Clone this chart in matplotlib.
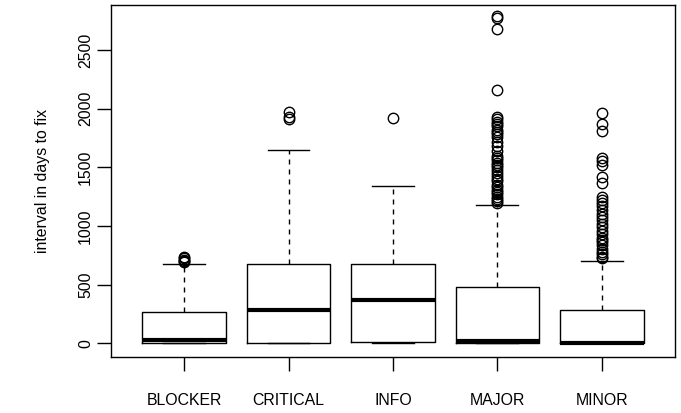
import matplotlib
matplotlib.use("Agg")
import matplotlib.pyplot as plt

plt.rcParams['font.family'] = ['Liberation Sans', 'DejaVu Sans']

# Summary statistics per severity level (days)
categories = ["BLOCKER", "CRITICAL", "INFO", "MAJOR", "MINOR"]
q1 = [0, 0, 14, 5, 0]
medians = [26, 285, 368, 20, 4]
q3 = [270, 676, 676, 477, 284]
whisk_lo = [0, 0, 0, 0, 0]
whisk_hi = [680, 1647, 1342, 1181, 705]

fliers_blocker = [740, 725, 712, 700, 690]
fliers_critical = [1975, 1925, 1912]
fliers_info = [1917]
fliers_major = [2790, 2775, 2680, 2160, 1930, 1910, 1890, 1870, 1850, 1820,
                1800, 1780, 1760, 1720, 1680, 1640, 1600, 1580, 1560, 1540,
                1520, 1500, 1480, 1450, 1430, 1400, 1380, 1350, 1330, 1310,
                1290, 1270, 1250, 1230, 1210, 1195]
fliers_minor = [1960, 1870, 1810, 1580, 1550, 1520, 1420, 1365, 1250, 1220,
                1200, 1170, 1140, 1100, 1080, 1050, 1020, 990, 960, 930,
                900, 880, 860, 840, 800, 780, 760, 740, 725]
fliers = [fliers_blocker, fliers_critical, fliers_info, fliers_major, fliers_minor]

yticks = [0, 500, 1000, 1500, 2000, 2500]
ylabel = "interval in days to fix"

stats = []
for i, name in enumerate(categories):
    stats.append(dict(label=name, q1=q1[i], med=medians[i], q3=q3[i],
                      whislo=whisk_lo[i], whishi=whisk_hi[i], fliers=fliers[i]))

fig = plt.figure(figsize=(6.81, 4.13), dpi=100)
ax = fig.add_axes([0.163, 0.1363, 0.828, 0.8523])

ax.bxp(stats, positions=range(1, len(categories) + 1), widths=0.8,
       capwidths=0.4, showfliers=True,
       boxprops=dict(color="black", linewidth=1.0),
       medianprops=dict(color="black", linewidth=3.0, solid_capstyle="butt"),
       whiskerprops=dict(color="black", linewidth=1.0, linestyle=(0, (3.6, 3.6))),
       capprops=dict(color="black", linewidth=1.0),
       flierprops=dict(marker="o", markerfacecolor="none", markeredgecolor="black",
                       markersize=7.5, markeredgewidth=1.0, linestyle="none"))

ax.set_xlim(0.3, 5.7)
ax.set_ylim(-114, 2886)
ax.set_yticks(yticks)
ax.set_yticklabels([str(v) for v in yticks], rotation=90, va="center")
ax.set_xticks(range(1, len(categories) + 1))
ax.set_xticklabels(categories)

ax.tick_params(axis="both", direction="out", length=9.8, width=1.0,
               labelsize=11.4, colors="black")
ax.tick_params(axis="x", pad=16)
ax.tick_params(axis="y", pad=3)
for s in ax.spines.values():
    s.set_linewidth(1.0)
    s.set_color("black")

ax.set_ylabel(ylabel, fontsize=11.4, labelpad=20)

fig.savefig("out.png", dpi=100)
